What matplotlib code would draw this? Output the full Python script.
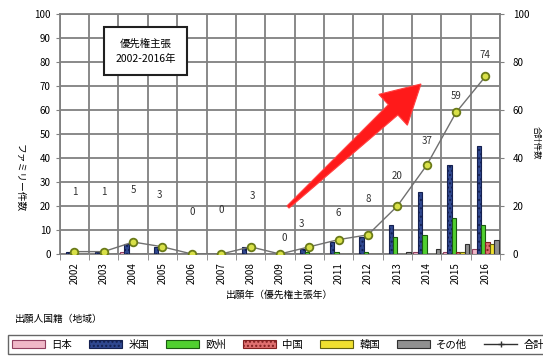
import matplotlib.pyplot as plt
import matplotlib.patches as mpatches
from matplotlib.lines import Line2D
from matplotlib.transforms import IdentityTransform
import numpy as np

plt.rcParams['font.family'] = ['Noto Sans CJK JP', 'DejaVu Sans']

# 出願年ごとの国籍別件数
years = [str(y) for y in range(2002, 2017)]
japan = [0, 0, 1, 0, 0, 0, 0, 0, 0, 0, 0, 0, 1, 1, 2]
usa = [1, 1, 4, 3, 0, 0, 3, 0, 2, 5, 7, 12, 26, 37, 45]
europe = [0, 0, 0, 0, 0, 0, 0, 0, 1, 1, 1, 7, 8, 15, 12]
china = [0, 0, 0, 0, 0, 0, 0, 0, 0, 0, 0, 0, 0, 1, 5]
korea = [0, 0, 0, 0, 0, 0, 0, 0, 0, 0, 0, 0, 0, 1, 4]
others = [0, 0, 0, 0, 0, 0, 0, 0, 0, 0, 0, 1, 2, 4, 6]
totals = [1, 1, 5, 3, 0, 0, 3, 0, 3, 6, 8, 20, 37, 59, 74]

names = ['日本', '米国', '欧州', '中国', '韓国', 'その他']
series = [japan, usa, europe, china, korea, others]
faces = ['#f0b8c8', '#304890', '#50d030', '#e07070', '#f0e030', '#909090']
edges = ['#904060', '#142050', '#1a5a10', '#802020', '#606010', '#303030']
hatches = [None, '....', None, '....', None, None]

# ラベルの位置調整（ピクセル）
label_dy = [60, 60, 52, 52, 42, 44, 51, 16, 23, 27, 36, 30, 24, 16, 21]
label_dx = [0, 0, 0, -3, 0, 0, 2, 4, -8, 0, 0, 0, 0, 0, 0]

fig = plt.figure(figsize=(5.43, 3.56), dpi=100)
ax = fig.add_axes([0.110, 0.2865, 0.811, 0.674])

x = np.arange(len(years))
w = 0.15
for i, (vals, fc, ec, h) in enumerate(zip(series, faces, edges, hatches)):
    ax.bar(x + (i - 2.5) * w, vals, width=w, color=fc, edgecolor=ec,
           linewidth=0.8, hatch=h, zorder=3)

ax.plot(x, totals, color='#707070', linewidth=1.0, marker='o', markersize=5.5,
        markerfacecolor='#d8e048', markeredgecolor='#6a7a18',
        markeredgewidth=1.3, zorder=4)
for xi, v, dy, dx in zip(x, totals, label_dy, label_dx):
    ax.annotate(str(v), (xi, v), xytext=(dx, dy), textcoords='offset pixels',
                ha='center', va='center', fontsize=7, color='#303030')

ax.set_xlim(-0.5, len(years) - 0.5)
ax.set_ylim(0, 100)
ax.set_yticks(np.arange(0, 101, 10))
ax.set_xticks(x)
ax.set_xticklabels(years, rotation=90, fontsize=7)
ax.tick_params(axis='y', labelsize=7, length=3, color='#808080')
ax.tick_params(axis='x', length=0, pad=6)
ax.set_xticks(np.arange(-0.5, len(years), 1), minor=True)
ax.tick_params(axis='x', which='minor', length=4, color='#808080')
ax.grid(axis='y', which='major', color='#808080', linewidth=1.3, zorder=0)
ax.grid(axis='x', which='minor', color='#808080', linewidth=1.3, zorder=0)
ax.set_axisbelow(True)
for s in ax.spines.values():
    s.set_color('#808080')
    s.set_linewidth(1.3)

ax2 = ax.twinx()
ax2.set_ylim(0, 100)
ax2.set_yticks(np.arange(0, 101, 20))
ax2.tick_params(axis='y', labelsize=7, length=3, color='#808080', pad=6)
for s in ax2.spines.values():
    s.set_visible(False)

ax.set_xlabel('出願年（優先権主張年）', fontsize=7, labelpad=4)
fig.text(0.037, 0.50, 'ファミリー件数', rotation=-90, ha='center', va='center',
         fontsize=7)
fig.text(0.9955, 0.60, '合計件数', rotation=-90, ha='right', va='center',
         fontsize=6)

# 期間表示のボックス
ax.text(0.195, 0.845, '優先権主張\n2002-2016年', transform=ax.transAxes,
        ha='center', va='center', fontsize=7.5, linespacing=1.6,
        bbox=dict(boxstyle='square,pad=1.1', facecolor='white',
                  edgecolor='#202020', linewidth=1.5), zorder=6)

fig.text(0.028, 0.105, '出願人国籍（地域）', fontsize=7, ha='left', va='center')

handles = [mpatches.Patch(facecolor=fc, edgecolor=ec, hatch=h, linewidth=0.8)
           for fc, ec, h in zip(faces, edges, hatches)]
handles.append(Line2D([], [], color='#303030', linewidth=1.0, marker='+',
                      markersize=4))
fig.legend(handles, names + ['合計'], loc='lower left',
           bbox_to_anchor=(0.01, 0.0), ncol=7, fontsize=7.5, frameon=True,
           fancybox=False, edgecolor='#404040', handlelength=3.2,
           handleheight=0.8, columnspacing=1.6, handletextpad=0.6,
           borderaxespad=0.2)

# 増加傾向を示す矢印
start = np.array([288.0, 149.0])
end = np.array([421.0, 272.0])
d = (end - start) / np.linalg.norm(end - start)
n = np.array([-d[1], d[0]])
L = np.linalg.norm(end - start)
base = start + d * (L - 38)
pts = [start + n * 1.5, base + n * 7, base + n * 21, end,
       base - n * 21, base - n * 7, start - n * 1.5]
fig.patches.append(mpatches.Polygon(pts, closed=True, facecolor='#ff1a1a',
                                    edgecolor='#ff4040', linewidth=0.8,
                                    transform=IdentityTransform(),
                                    figure=fig, zorder=10))

fig.savefig('out.png', dpi=100)
